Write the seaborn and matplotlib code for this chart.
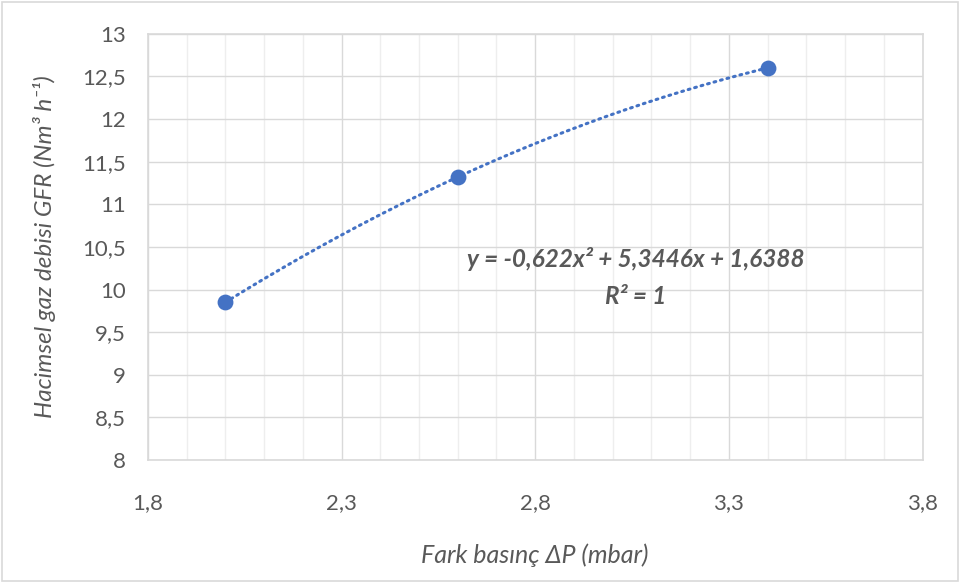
import numpy as np
import pandas as pd
import matplotlib
matplotlib.use("Agg")
import matplotlib.pyplot as plt
import seaborn as sns
from matplotlib.ticker import FixedLocator, MultipleLocator, FuncFormatter

# data
pressure = [2.0, 2.6, 3.4]          # mbar
flow = [9.85, 11.32, 12.60]          # Nm3/h
x_ticks = [1.8, 2.3, 2.8, 3.3, 3.8]
eq_text = "y = -0,622x² + 5,3446x + 1,6388"
r2_text = "R² = 1"

df = pd.DataFrame({"dp": pressure, "gfr": flow})

sns.set_style("white")
plt.rcParams["font.family"] = ["Lato", "DejaVu Sans"]

blue = "#4472C4"
grey_txt = "#595959"

fig = plt.figure(figsize=(9.6, 5.83), dpi=100)
ax = fig.add_axes([0.154, 0.211, 0.807, 0.731])

# polynomial trendline (order 2), drawn between first and last point
coef = np.polyfit(df["dp"], df["gfr"], 2)
xs = np.linspace(df["dp"].min(), df["dp"].max(), 200)
ax.plot(xs, np.polyval(coef, xs), color=blue, lw=2.2, ls=(0, (0.6, 1.6)),
        dash_capstyle="round", zorder=3)

sns.scatterplot(data=df, x="dp", y="gfr", ax=ax, color=blue, s=130,
                edgecolor=blue, linewidth=0, zorder=4)

ax.set_xlim(1.8, 3.8)
ax.set_ylim(8, 13)
ax.xaxis.set_major_locator(FixedLocator(x_ticks))
ax.xaxis.set_minor_locator(FixedLocator(np.round(np.arange(1.8, 3.81, 0.1), 2)))
ax.yaxis.set_major_locator(MultipleLocator(0.5))
comma = FuncFormatter(lambda v, p: f"{v:g}".replace(".", ","))
ax.xaxis.set_major_formatter(comma)
ax.yaxis.set_major_formatter(comma)

ax.grid(which="major", color="#d9d9d9", lw=1.0)
ax.grid(which="minor", axis="x", color="#eeeeee", lw=1.0)
ax.set_axisbelow(True)
for s in ax.spines.values():
    s.set_color("#d9d9d9")
    s.set_linewidth(1.2)

ax.tick_params(axis="both", which="both", length=0, labelsize=16, colors=grey_txt)
ax.tick_params(axis="x", pad=24)
ax.tick_params(axis="y", pad=16)

ax.set_xlabel("Fark basınç ΔP (mbar)", fontsize=18, style="italic",
              color=grey_txt, labelpad=22)
ax.set_ylabel("Hacimsel gaz debisi GFR (Nm³ h⁻¹)", fontsize=17.5, style="italic",
              color=grey_txt)
ax.yaxis.set_label_coords(-0.118, 0.5)

ax.text(3.06, 10.36, eq_text, ha="center", va="center", fontsize=17.5,
        style="italic", color=grey_txt, fontweight="bold")
ax.text(3.06, 9.92, r2_text, ha="center", va="center", fontsize=17.5,
        style="italic", color=grey_txt, fontweight="bold")

# light outer frame like the chart area border
fig.patches.append(plt.Rectangle((0.002, 0.003), 0.996, 0.994, transform=fig.transFigure,
                                 fill=False, edgecolor="#d9d9d9", lw=1.2))

fig.savefig("out.png", dpi=100)
plt.close(fig)
